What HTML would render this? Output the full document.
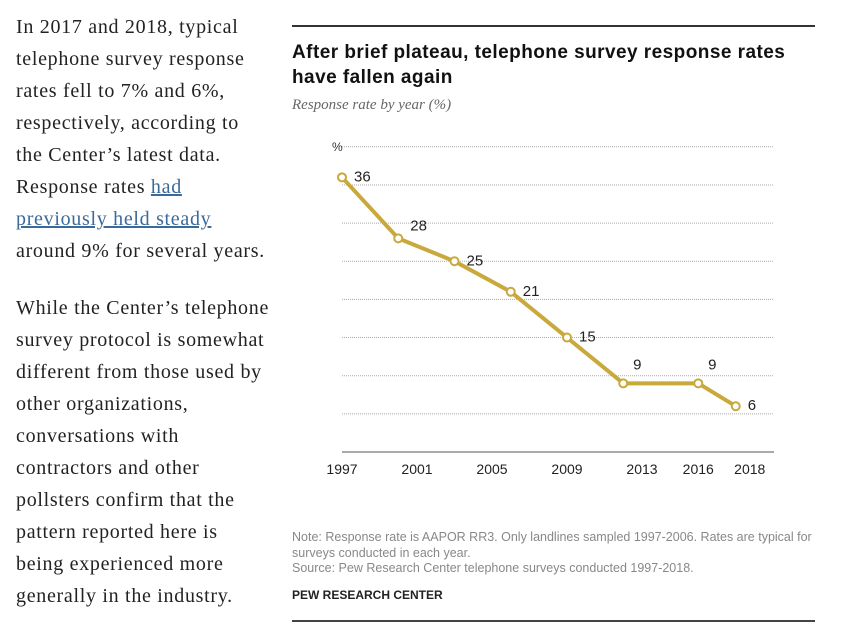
<!DOCTYPE html>
<html><head><meta charset="utf-8"><style>
body{margin:0;width:849px;height:631px;background:#fff;position:relative;overflow:hidden}
.l{position:absolute;left:16px;font-family:"Liberation Serif",serif;font-size:20px;letter-spacing:0.7px;color:#222;line-height:32px;white-space:nowrap}
.l a{color:#3a6a9a;text-decoration:underline}
.t{position:absolute;font-family:"Liberation Sans",sans-serif;white-space:nowrap}
</style></head><body>
<div class="l" style="top:11px">In 2017 and 2018, typical<br>telephone survey response<br>rates fell to 7% and 6%,<br>respectively, according to<br>the Center’s latest data.<br>Response rates <a>had</a><br><a>previously held steady</a><br>around 9% for several years.</div>
<div class="l" style="top:292px">While the Center’s telephone<br>survey protocol is somewhat<br>different from those used by<br>other organizations,<br>conversations with<br>contractors and other<br>pollsters confirm that the<br>pattern reported here is<br>being experienced more<br>generally in the industry.</div>
<div style="position:absolute;left:292px;top:25px;width:523px;height:2px;background:#333"></div>
<div class="t" style="left:292px;top:40px;font-size:19px;font-weight:bold;letter-spacing:0.45px;line-height:25px;color:#111">After brief plateau, telephone survey response rates<br>have fallen again</div>
<div class="t" style="left:292px;top:97px;font-size:15px;font-style:italic;font-family:'Liberation Serif',serif;color:#666">Response rate by year (%)</div>
<svg id="c" width="849" height="631" style="position:absolute;left:0;top:0"></svg>
<div class="t" style="left:292px;top:530px;font-size:12.5px;line-height:15.5px;color:#888">Note: Response rate is AAPOR RR3. Only landlines sampled 1997-2006. Rates are typical for<br>surveys conducted in each year.<br>Source: Pew Research Center telephone surveys conducted 1997-2018.</div>
<div class="t" style="left:292px;top:588px;font-size:12px;font-weight:bold;color:#222">PEW RESEARCH CENTER</div>
<div style="position:absolute;left:292px;top:620px;width:523px;height:2px;background:#444"></div>
<script>
const years=[1997,2000,2003,2006,2009,2012,2016,2018];
const values=[36,28,25,21,15,9,9,6];
const tickYears=[1997,2001,2005,2009,2013,2016,2018];
const tickLabels=["1997","2001","2005","2009","2013","2016","2018"];
const gridVals=[5,10,15,20,25,30,35,40];
const NS="http://www.w3.org/2000/svg",svg=document.getElementById('c');
const x=v=>342+(v-1997)*18.75, y=v=>452-v*7.63;
function mk(t,a){const e=document.createElementNS(NS,t);for(const k in a)e.setAttribute(k,a[k]);svg.appendChild(e);return e;}
gridVals.forEach(g=>{const e=mk('line',{x1:342,x2:774,y1:y(g),y2:y(g),stroke:'#aaa','stroke-width':1,'stroke-dasharray':'1,1'});

});
let p=mk('text',{x:332,y:y(40)+4,'font-size':12,'font-family':'Liberation Sans,sans-serif',fill:'#333'});p.textContent='%';


const base=mk('line',{x1:342,x2:774,y1:452,y2:452,stroke:'#aaa','stroke-width':2});


tickYears.forEach((t,i)=>{const e=mk('text',{x:x(t)+(i==6?14:0),y:474,'text-anchor':'middle','font-size':14,'font-family':'Liberation Sans,sans-serif',fill:'#222'});e.textContent=tickLabels[i];

});
const line=mk('polyline',{points:years.map((v,i)=>x(v)+','+y(values[i])).join(' '),fill:'none',stroke:'#c9a83c','stroke-width':4,'stroke-linejoin':'round'});


years.forEach((v,i)=>{const c=mk('circle',{cx:x(v),cy:y(values[i]),r:4,fill:'#fff',stroke:'#c9a83c','stroke-width':2});


const up=(i==5||i==6);
const l=mk('text',{x:up?x(v)+14:x(v)+12,y:up?y(values[i])-14:y(values[i])+(i==1?-8:4),'text-anchor':up?'middle':'start','font-size':15,'font-family':'Liberation Sans,sans-serif',fill:'#222'});
l.textContent=values[i];

});
</script>
</body></html>
